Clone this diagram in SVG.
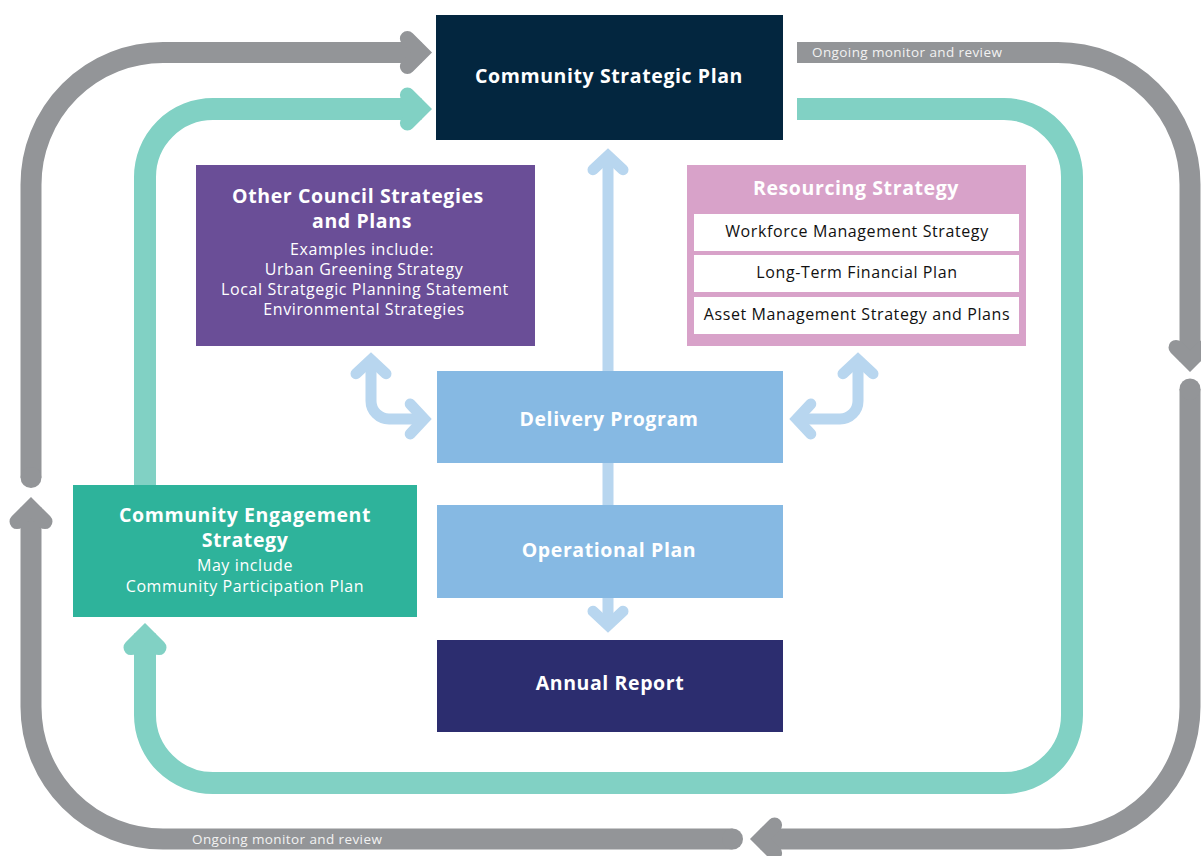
<svg xmlns="http://www.w3.org/2000/svg" width="1201" height="856" viewBox="0 0 1201 856">
<defs>
<style>
.t{font-family:"Open Sans","Noto Sans","Liberation Sans",sans-serif;text-anchor:middle}
.b{font-weight:700;font-size:19.5px;letter-spacing:0.6px;fill:#ffffff}
.r{font-weight:400;font-size:16px;letter-spacing:0.6px;fill:#ffffff}
.k{font-weight:400;font-size:16px;letter-spacing:0.6px;fill:#111111}
.m{font-family:"Open Sans","Noto Sans","Liberation Sans",sans-serif;font-size:13.5px;letter-spacing:0.4px;fill:#f2f2f2}
.gray{fill:none;stroke:#939598;stroke-width:21;stroke-linecap:butt}
.teal{fill:none;stroke:#81d1c4;stroke-width:22;stroke-linecap:butt}
.lb{fill:none;stroke:#b8d6ef;stroke-width:11;stroke-linecap:butt}
</style>
<marker id="ag" markerUnits="userSpaceOnUse" orient="auto" refX="0" refY="0" markerWidth="60" markerHeight="60" overflow="visible">
<path d="M-14,-14 L0,0 L-14,14" fill="none" stroke="#939598" stroke-width="15" stroke-linecap="round" stroke-linejoin="miter"/>
</marker>
<marker id="at" markerUnits="userSpaceOnUse" orient="auto" refX="0" refY="0" markerWidth="60" markerHeight="60" overflow="visible">
<path d="M-14,-14 L0,0 L-14,14" fill="none" stroke="#81d1c4" stroke-width="15" stroke-linecap="round" stroke-linejoin="miter"/>
</marker>
<marker id="al" markerUnits="userSpaceOnUse" orient="auto-start-reverse" refX="0" refY="0" markerWidth="60" markerHeight="60" overflow="visible">
<path d="M-14,-15 L0,0 L-14,15" fill="none" stroke="#b8d6ef" stroke-width="11" stroke-linecap="round" stroke-linejoin="miter"/>
</marker>
<marker id="cg" markerUnits="userSpaceOnUse" orient="auto" refX="0" refY="0" markerWidth="30" markerHeight="30" overflow="visible">
<circle cx="0" cy="0" r="10.5" fill="#939598"/>
</marker>
</defs>
<rect x="0" y="0" width="1201" height="856" fill="#ffffff"/>

<g id="connectors">
<path class="gray" d="M1190,389 V707 A132,132 0 0 1 1058,839 H760.6" marker-start="url(#cg)" marker-end="url(#ag)"/>
<path class="gray" d="M732.5,839 H163 A132,132 0 0 1 31,707 V507.6" marker-start="url(#cg)" marker-end="url(#ag)"/>
<path class="gray" d="M31,477.5 V184.5 A132,132 0 0 1 163,52.5 H421.4" marker-start="url(#cg)" marker-end="url(#ag)"/>
<path class="gray" d="M797,52.5 H1058 A132,132 0 0 1 1190,184.5 V361.4" marker-end="url(#ag)"/>
<path class="teal" d="M145,500 V177 A68,68 0 0 1 213,109 H421.4" marker-end="url(#at)"/>
<path class="teal" d="M797,109 H1004 A68,68 0 0 1 1072,177 V715 A68,68 0 0 1 1004,783 H213 A68,68 0 0 1 145,715 V633.6" marker-end="url(#at)"/>
<path class="lb" d="M608,155.8 V625.2" marker-start="url(#al)" marker-end="url(#al)"/>
<path class="lb" d="M371,359.8 V401 A18,18 0 0 0 389,419 H424.2" marker-start="url(#al)" marker-end="url(#al)"/>
<path class="lb" d="M858,359.8 V401 A18,18 0 0 1 840,419 H796.8" marker-start="url(#al)" marker-end="url(#al)"/>
<text class="m" x="812" y="57">Ongoing monitor and review</text>
<text class="m" x="192" y="844">Ongoing monitor and review</text>
</g>

<g id="community-strategic-plan">
<rect x="436" y="15" width="347" height="125" fill="#03263f"/>
<text class="t b" x="609" y="83">Community Strategic Plan</text>
</g>

<g id="other-council-strategies">
<rect x="196" y="165" width="339" height="181" fill="#6a4e97"/>
<text class="t b" x="358" y="203">Other Council Strategies</text>
<text class="t b" x="362" y="228">and  Plans</text>
<text class="t r" x="362" y="255">Examples include:</text>
<text class="t r" x="364" y="275">Urban Greening Strategy</text>
<text class="t r" x="365" y="295">Local Stratgegic Planning Statement</text>
<text class="t r" x="364" y="315">Environmental Strategies</text>
</g>

<g id="resourcing-strategy">
<rect x="687" y="165" width="339" height="181" fill="#d8a2c9"/>
<text class="t b" x="856" y="195">Resourcing Strategy</text>
<rect x="694" y="214" width="325" height="37" fill="#ffffff"/>
<rect x="694" y="255" width="325" height="37" fill="#ffffff"/>
<rect x="694" y="297" width="325" height="37" fill="#ffffff"/>
<text class="t k" x="857" y="237">Workforce Management Strategy</text>
<text class="t k" x="857" y="278">Long-Term Financial Plan</text>
<text class="t k" x="857" y="320">Asset Management Strategy and Plans</text>
</g>

<g id="delivery-program">
<rect x="437" y="371" width="346" height="92" fill="#86b9e3"/>
<text class="t b" x="609" y="426">Delivery Program</text>
</g>

<g id="operational-plan">
<rect x="437" y="505" width="346" height="93" fill="#86b9e3"/>
<text class="t b" x="609" y="557">Operational Plan</text>
</g>

<g id="annual-report">
<rect x="437" y="640" width="346" height="92" fill="#2c2d6f"/>
<text class="t b" x="610" y="690">Annual Report</text>
</g>

<g id="community-engagement-strategy">
<rect x="73" y="485" width="344" height="132" fill="#2eb39b"/>
<text class="t b" x="245" y="522">Community Engagement</text>
<text class="t b" x="245" y="547">Strategy</text>
<text class="t r" x="245" y="571">May include</text>
<text class="t r" x="245" y="592">Community Participation Plan</text>
</g>
</svg>
